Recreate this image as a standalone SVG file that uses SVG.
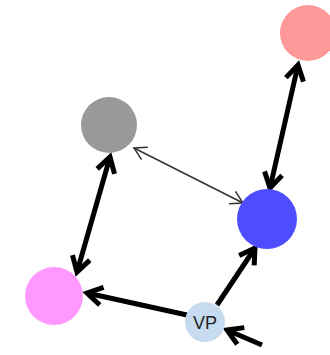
<svg xmlns="http://www.w3.org/2000/svg" width="330" height="355" viewBox="0 0 330 355">
<style>
.thick{stroke:#000;stroke-width:5;fill:none;stroke-linecap:butt}
.thin{stroke:#333;stroke-width:1.5;fill:none}
.lbl{font-family:"Liberation Sans",Arial,sans-serif;font-size:18px;fill:#222;text-anchor:middle}
</style>
<defs>
<marker id="ah" markerUnits="userSpaceOnUse" orient="auto-start-reverse" refX="0" refY="0" markerWidth="30" markerHeight="30" viewBox="-20 -15 30 30" overflow="visible">
<path d="M-15,-9 L0,0 L-15,9" fill="none" stroke="#000" stroke-width="5"/>
</marker>
<marker id="at" markerUnits="userSpaceOnUse" orient="auto-start-reverse" refX="0" refY="0" markerWidth="30" markerHeight="30" viewBox="-20 -15 30 30" overflow="visible">
<path d="M-12,-7 L0,0 L-12,7" fill="none" stroke="#333" stroke-width="1.5"/>
</marker>
</defs>
<g id="connectors">
<line class="thick" x1="298" y1="65" x2="270" y2="188" marker-start="url(#ah)" marker-end="url(#ah)"/>
<line class="thick" x1="110" y1="157" x2="77" y2="272" marker-start="url(#ah)" marker-end="url(#ah)"/>
<line class="thin" x1="134" y1="148" x2="243" y2="203" marker-start="url(#at)" marker-end="url(#at)"/>
<line class="thick" x1="187" y1="315" x2="87" y2="293" marker-end="url(#ah)"/>
<line class="thick" x1="217" y1="305" x2="255" y2="248" marker-end="url(#ah)"/>
<line class="thick" x1="262" y1="345" x2="227" y2="330" marker-end="url(#ah)"/>
</g>
<g id="node-red"><circle cx="308" cy="33" r="28" fill="#ff9999"/></g>
<g id="node-gray"><circle cx="109" cy="125" r="28" fill="#999999"/></g>
<g id="node-blue"><circle cx="267" cy="219" r="30" fill="#4d4dff"/></g>
<g id="node-magenta"><circle cx="54" cy="296" r="29" fill="#ff99ff"/></g>
<g id="node-vp"><circle cx="205" cy="322" r="20" fill="#c6dbef"/><text class="lbl" x="205" y="329">VP</text></g>
</svg>
